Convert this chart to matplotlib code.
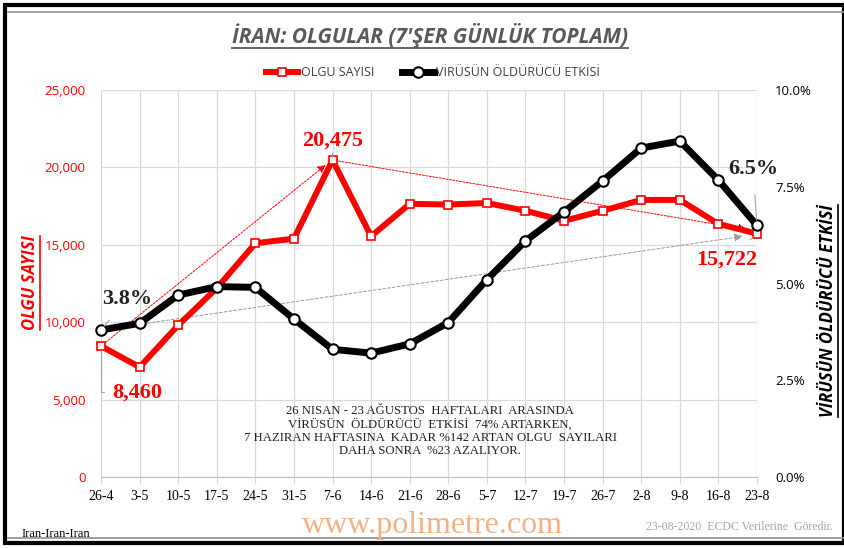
import matplotlib
matplotlib.use("Agg")
import matplotlib.pyplot as plt
from matplotlib.lines import Line2D
from matplotlib.patches import Rectangle

categories = ["26-4", "3-5", "10-5", "17-5", "24-5", "31-5", "7-6", "14-6", "21-6", "28-6",
              "5-7", "12-7", "19-7", "26-7", "2-8", "9-8", "16-8", "23-8"]
olgu = [8460, 7100, 9800, 12200, 15100, 15400, 20475, 15550, 17650, 17600,
        17700, 17200, 16550, 17200, 17900, 17900, 16350, 15722]
etki = [3.8, 3.97, 4.7, 4.92, 4.9, 4.08, 3.3, 3.2, 3.44, 3.99,
        5.1, 6.1, 6.85, 7.65, 8.5, 8.68, 7.67, 6.5]
left_ticks = [0, 5000, 10000, 15000, 20000, 25000]
right_ticks = [0.0, 2.5, 5.0, 7.5, 10.0]

SANS = ['Liberation Sans Narrow', 'Open Sans', 'DejaVu Sans']
SERIF = ['Liberation Serif', 'DejaVu Serif']
plt.rcParams['font.family'] = SANS

W, H = 845, 548
fig = plt.figure(figsize=(W / 100, H / 100), dpi=100)

# frame
fig.patches.append(Rectangle((5 / W, 5 / H), (W - 6) / W, (H - 10) / H, transform=fig.transFigure,
                             fill=False, edgecolor='black', linewidth=3))
fig.lines.append(Line2D([8 / W, 1], [1 - 12 / H, 1 - 12 / H], transform=fig.transFigure,
                        color='#909090', linewidth=1.2))
fig.lines.append(Line2D([8 / W, 1], [10 / H, 10 / H], transform=fig.transFigure,
                        color='#909090', linewidth=1.2))

x = list(range(len(categories)))
ax1 = fig.add_axes([101 / W, 1 - 477 / H, (757 - 101) / W, (477 - 90) / H])
ax2 = ax1.twinx()

ax1.set_xlim(0, len(categories) - 1)
ax1.set_ylim(0, 25000)
ax2.set_ylim(0, 10)
ax1.set_yticks(left_ticks)
ax1.set_yticklabels([f"{v:,}" for v in left_ticks], color='#ff0000', fontsize=9.5)
ax2.set_yticks(right_ticks)
ax2.set_yticklabels([f"{v:.1f}%" for v in right_ticks], color='black', fontsize=9.5)
ax1.set_xticks(x)
ax1.set_xticklabels(categories, fontsize=10, family=SERIF)
ax1.grid(True, color='#d9d9d9', linewidth=0.9)
ax1.set_axisbelow(True)
for a in (ax1, ax2):
    for s in a.spines.values():
        s.set_visible(False)
ax1.spines['bottom'].set_visible(True)
ax1.spines['bottom'].set_color('#bfbfbf')
ax1.tick_params(axis='x', length=5, color='#d9d9d9', pad=4)
ax1.yaxis.set_tick_params(length=0, pad=11)
ax2.yaxis.set_tick_params(length=0, pad=13)

l1, = ax1.plot(x, olgu, color='#ff0000', linewidth=4.3, marker='s', markersize=6,
               markerfacecolor='white', markeredgecolor='#ff0000', markeredgewidth=1.2,
               clip_on=False, zorder=3)
l2, = ax2.plot(x, etki, color='black', linewidth=5, marker='o', markersize=7.5,
               markerfacecolor='white', markeredgecolor='black', markeredgewidth=1.5,
               clip_on=False, zorder=3)

# arrows
ipk = olgu.index(max(olgu))
n = len(x) - 1
ax1.annotate('', xy=(ipk - 0.12, olgu[ipk] - 200), xytext=(x[0], olgu[0]),
             arrowprops=dict(arrowstyle='-|>', color='#ff0000', linestyle=(0, (2, 1.5)), lw=0.7,
                             mutation_scale=12), zorder=2)
ax1.annotate('', xy=(n - 0.2, olgu[n] + 250), xytext=(ipk, olgu[ipk]),
             arrowprops=dict(arrowstyle='-|>', color='#ff0000', linestyle=(0, (2, 1.5)), lw=0.7,
                             mutation_scale=12), zorder=2)
ax1.annotate('', xy=(n - 0.3, olgu[n] - 150), xytext=(x[0], etki[0] * 2500),
             arrowprops=dict(arrowstyle='-|>', color='#999999', linestyle=(0, (3, 2)), lw=0.7,
                             mutation_scale=12), zorder=2)

# data labels
lbl = dict(family=SERIF, fontweight='bold', fontsize=16)
ax1.annotate(f"{olgu[ipk]:,}", xy=(ipk, olgu[ipk]), xytext=(ipk, olgu[ipk] + 1250), ha='center',
             va='center', color='#ff0000', **lbl,
             arrowprops=dict(arrowstyle='-', color='#a0a0a0', lw=0.8, shrinkA=8, shrinkB=2))
ax1.annotate(f"{olgu[0]:,}", xy=(x[0], olgu[0]), xytext=(0.93, olgu[0] - 3000), ha='center',
             va='center', color='#ff0000', **lbl,
             arrowprops=dict(arrowstyle='-', color='#a0a0a0', lw=0.8, shrinkA=0, shrinkB=3,
                             connectionstyle='angle,angleA=0,angleB=90,rad=0',
                             relpos=(-0.15, 0.5)))
ax1.annotate(f"{olgu[n]:,}", xy=(x[n], olgu[n]), xytext=(n - 0.78, olgu[n] - 1700), ha='center',
             va='center', color='#ff0000', **lbl,
             arrowprops=dict(arrowstyle='-', color='#a0a0a0', lw=0.8, shrinkA=8, shrinkB=2,
                             relpos=(0.7, 1)))
ax2.annotate(f"{etki[0]:.1f}%", xy=(x[0], etki[0]), xytext=(0.68, etki[0] + 0.8), ha='center',
             va='center', color='#222222', **lbl,
             arrowprops=dict(arrowstyle='-', color='#a0a0a0', lw=0.8, shrinkA=8, shrinkB=3))
ax2.annotate(f"{etki[n]:.1f}%", xy=(x[n], etki[n]), xytext=(n - 0.1, etki[n] + 1.45), ha='center',
             va='center', color='#222222', **lbl,
             arrowprops=dict(arrowstyle='-', color='#a0a0a0', lw=0.8, shrinkA=9, shrinkB=4))

# note
note = ("26 NISAN - 23 AĞUSTOS  HAFTALARI  ARASINDA\n"
        "VİRÜSÜN  ÖLDÜRÜCÜ  ETKİSİ  74% ARTARKEN,\n"
        "7 HAZIRAN HAFTASINA  KADAR %142 ARTAN OLGU  SAYILARI\n"
        "DAHA SONRA  %23 AZALIYOR.")
fig.text(430 / W, 1 - 431 / H, note, ha='center', va='center', family=SERIF, fontsize=9.2,
         color='#222222', linespacing=1.1)

# legend
fig.legend([l1, l2], ["OLGU SAYISI", "VİRÜSÜN ÖLDÜRÜCÜ ETKİSİ"], loc='center',
           bbox_to_anchor=(433 / W, 1 - 73 / H), ncol=2, frameon=False, fontsize=9,
           handlelength=2.6, columnspacing=2.2, handletextpad=0.2, labelcolor='#404040')

# titles
t = fig.text(430 / W, 1 - 36 / H, "İRAN: OLGULAR (7'ŞER GÜNLÜK TOPLAM)", ha='center', va='center',
             fontsize=15, fontweight='bold', fontstyle='italic', color='#595959')
yl = fig.text(30 / W, 1 - 283 / H, "OLGU SAYISI", rotation=90, ha='center', va='center',
              fontsize=12, fontweight='bold', fontstyle='italic', color='#ff0000')
yr = fig.text(828 / W, 1 - 311 / H, "VİRÜSÜN ÖLDÜRÜCÜ ETKİSİ", rotation=90, ha='center', va='center',
              fontsize=12, fontweight='bold', fontstyle='italic', color='black')

# footer
fig.text(22 / W, 1 - 534 / H, "Iran-Iran-Iran", ha='left', va='center', family=SERIF, fontsize=9,
         color='black')
fig.text(432 / W, 1 - 526 / H, "www.polimetre.com", ha='center', va='center', family=SERIF,
         fontsize=23, color='#f4b183')
fig.text(739 / W, 1 - 527 / H, "23-08-2020  ECDC Verilerine  Göredir.", ha='center', va='center',
         family=SERIF, fontsize=8.5, color='#a6a6a6')

# underlines
fig.canvas.draw()
r = fig.canvas.get_renderer()
bb = t.get_window_extent(r)
fig.lines.append(Line2D([bb.x0 / W, bb.x1 / W], [(bb.y0 + 1) / H] * 2, transform=fig.transFigure,
                        color='#595959', linewidth=1.3))
for txt, col in ((yl, '#ff0000'), (yr, 'black')):
    bb = txt.get_window_extent(r)
    fig.lines.append(Line2D([(bb.x1 + 1) / W] * 2, [bb.y0 / H, bb.y1 / H], transform=fig.transFigure,
                            color=col, linewidth=1.2))

fig.savefig("out.png", dpi=100)
